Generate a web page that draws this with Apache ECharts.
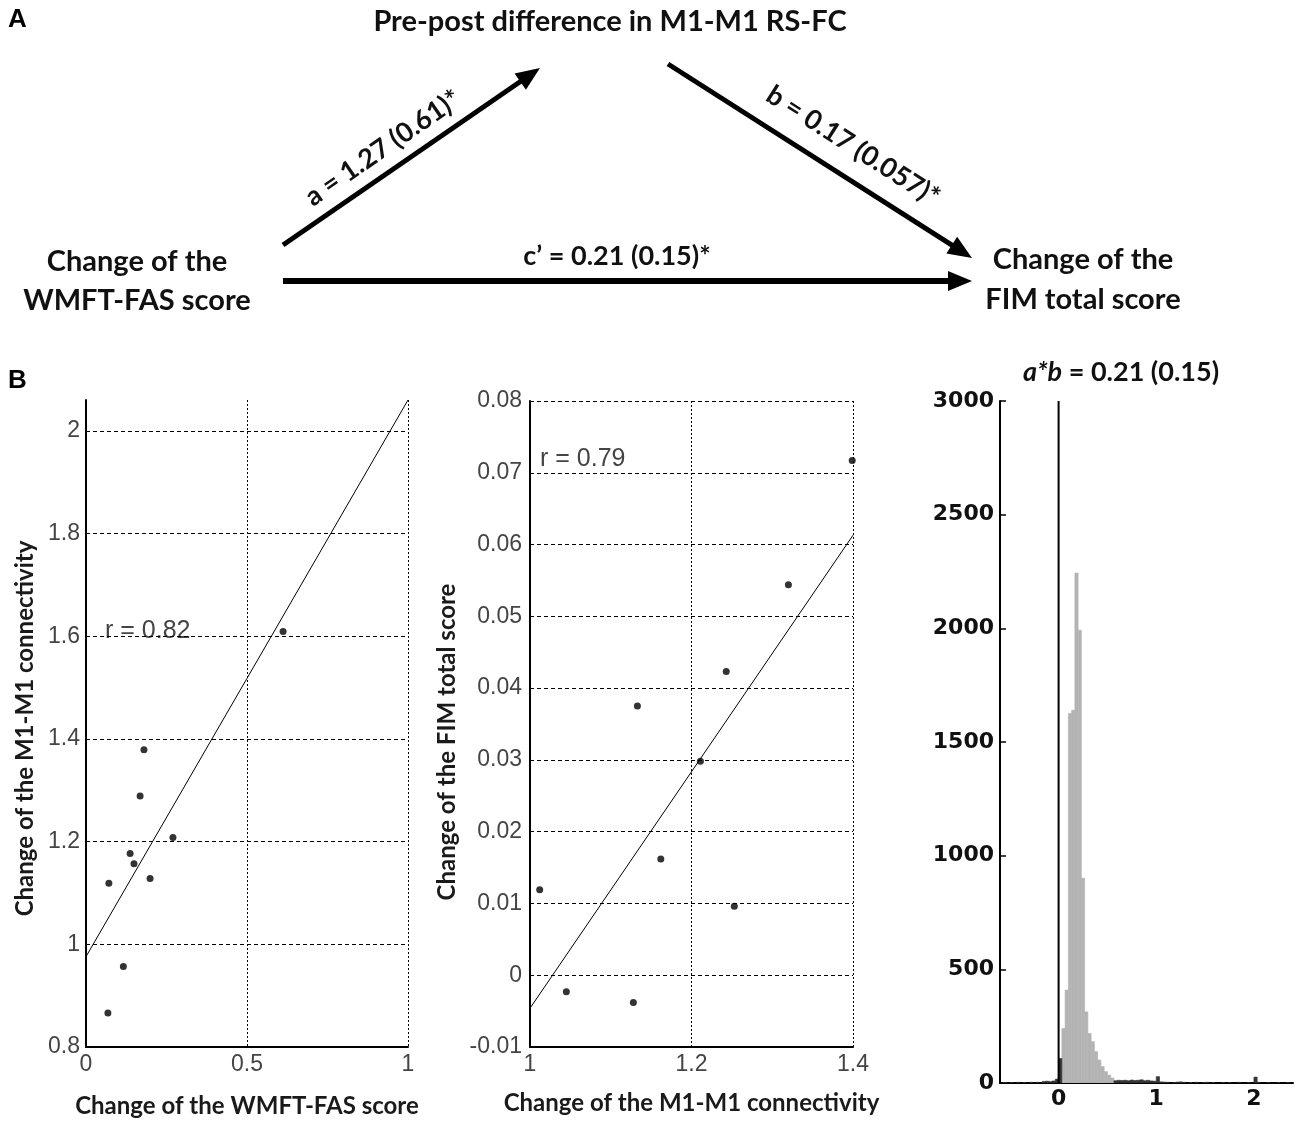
<!DOCTYPE html>
<html>
<head>
<meta charset="utf-8">
<script src="https://cdn.jsdelivr.net/npm/echarts@6/dist/echarts.min.js"></script>
<style>
html, body { margin: 0; padding: 0; background: #fff; }
#main { width: 1300px; height: 1126px; }
</style>
</head>
<body>
<div id="main"></div>
<script>
// B left: change of WMFT-FAS vs change of M1-M1 connectivity
var wmftX = [0.068, 0.116, 0.071, 0.137, 0.149, 0.199, 0.168, 0.180, 0.270, 0.612];
var connY = [0.866, 0.957, 1.119, 1.177, 1.157, 1.128, 1.289, 1.379, 1.208, 1.609];
var fitLeft = [[0, 0.976], [1, 2.06]];

// B middle: change of connectivity vs change of FIM total
var connX = [1.012, 1.045, 1.133, 1.128, 1.162, 1.211, 1.243, 1.253, 1.320, 1.399];
var fimY = [0.0119, -0.0023, 0.0375, -0.0038, 0.0162, 0.0298, 0.0423, 0.0096, 0.0544, 0.0717];
var fitMid = [[1, -0.0046], [1.4, 0.0613]];

// B right: bootstrap distribution of a*b (bin 0 starts at 0)
var binWidth = 1 / 30;
var lightFirstBin = 1;
var lightCounts = [240, 409, 1625, 1640, 2243, 1992, 901, 313, 218, 182, 138, 101, 72, 50, 35, 22];
// [bin index, count]
var darkBins = [
    [-17, 2], [-15, 2], [-13, 3], [-11, 2], [-9, 3], [-7, 3], [-5, 7], [-4, 8], [-3, 6], [-2, 9], [-1, 17], [0, 108],
    [17, 10], [18, 12], [19, 11], [20, 12], [21, 10], [22, 13], [23, 11], [24, 12], [25, 14], [26, 10], [27, 12],
    [28, 9], [29, 8], [30, 28], [31, 5], [32, 4], [33, 3], [35, 2], [36, 4], [37, 5], [38, 3], [40, 2], [42, 3],
    [44, 2], [45, 3], [47, 2], [50, 2], [52, 2], [55, 3], [58, 2], [60, 26], [61, 3], [64, 2], [67, 2], [70, 2]
];
var zeroLine = [[0, 0], [0, 3000]];

var tickFont = 'Liberation Sans';
var boldFont = 'Lato';

function zip(xs, ys) {
    return xs.map(function (x, i) { return [x, ys[i]]; });
}

var lightData = lightCounts.map(function (c, i) {
    var b = lightFirstBin + i;
    return [b * binWidth, (b + 1) * binWidth, c];
});
var darkData = darkBins.map(function (d) {
    return [d[0] * binWidth, (d[0] + 1) * binWidth, d[1]];
});

function renderBar(params, api) {
    var p0 = api.coord([api.value(0), api.value(2)]);
    var p1 = api.coord([api.value(1), 0]);
    var c = api.visual('color');
    return {
        type: 'rect',
        shape: { x: p0[0], y: p0[1], width: p1[0] - p0[0], height: p1[1] - p0[1] },
        style: { fill: c, stroke: c, lineWidth: 0.6 }
    };
}

function arrow(x1, y1, x2, y2, w) {
    var dx = x2 - x1, dy = y2 - y1;
    var len = Math.sqrt(dx * dx + dy * dy);
    var ux = dx / len, uy = dy / len;
    var hl = 24, hw = 10;
    var bx = x2 - ux * hl, by = y2 - uy * hl;
    return [
        { type: 'line', shape: { x1: x1, y1: y1, x2: bx + ux * 2, y2: by + uy * 2 },
          style: { stroke: '#000', lineWidth: w } },
        { type: 'polygon', shape: { points: [[x2, y2], [bx - uy * hw, by + ux * hw], [bx + uy * hw, by - ux * hw]] },
          style: { fill: '#000' } }
    ];
}

function txt(s, x, y, size, extra) {
    var el = {
        type: 'text', x: x, y: y,
        style: { text: s, fontFamily: boldFont, fontWeight: 'bold', fontSize: size, fill: '#111',
                 align: 'center', verticalAlign: 'middle' }
    };
    if (extra) {
        for (var k in extra) el[k] = extra[k];
    }
    return el;
}

var graphics = [
    { type: 'text', x: 8, y: 20, style: { text: 'A', fontFamily: 'Liberation Sans', fontWeight: 'bold', fontSize: 26, fill: '#000', verticalAlign: 'middle' } },
    { type: 'text', x: 8, y: 381, style: { text: 'B', fontFamily: 'Liberation Sans', fontWeight: 'bold', fontSize: 26, fill: '#000', verticalAlign: 'middle' } },
    txt('Pre-post difference in M1-M1 RS-FC', 610, 22, 29),
    txt('Change of the', 137, 262, 29),
    txt('WMFT-FAS score', 137, 301, 29),
    txt('Change of the', 1083, 260, 29),
    txt('FIM total score', 1083, 300, 29),
    txt('a = 1.27 (0.61)*', 383, 148, 27, { rotation: 0.604 }),
    txt('b = 0.17 (0.057)*', 853, 146, 27, { rotation: -0.567 }),
    txt('c\u2019 = 0.21 (0.15)*', 617, 256, 27),
    { type: 'text', x: 1121, y: 372,
      style: { text: '{i|a*b} = 0.21 (0.15)', fontFamily: boldFont, fontWeight: 'bold', fontSize: 27, fill: '#111',
               align: 'center', verticalAlign: 'middle',
               rich: { i: { fontFamily: boldFont, fontWeight: 'bold', fontStyle: 'italic', fontSize: 27, fill: '#111' } } } },
    { type: 'text', x: 105, y: 631, style: { text: 'r = 0.82', fontFamily: tickFont, fontSize: 25, fill: '#444', verticalAlign: 'middle' } },
    { type: 'text', x: 540, y: 459, style: { text: 'r = 0.79', fontFamily: tickFont, fontSize: 25, fill: '#444', verticalAlign: 'middle' } }
].concat(arrow(283, 245, 540, 68, 5))
 .concat(arrow(668, 64, 972, 258, 5))
 .concat(arrow(283, 281, 972, 281, 6));

var axisLineStyle = { show: true, onZero: false, lineStyle: { color: '#000', width: 2 } };
var tickLabel = { fontFamily: tickFont, fontSize: 23, color: '#444' };
var nameStyle = { fontFamily: boldFont, fontWeight: 'bold', fontSize: 24, color: '#1a1a1a' };
var histLabel = { fontFamily: 'DejaVu Sans', fontWeight: 'bold', fontSize: 22, color: '#111' };

function near(v, step) {
    return Math.abs(v / step - Math.round(v / step)) < 1e-6;
}

var myChart = echarts.init(document.getElementById('main'));

var option = {
    backgroundColor: '#fff',
    animation: false,
    graphic: graphics,
    grid: [
        { left: 86, top: 400, width: 322, height: 647 },
        { left: 530, top: 401, width: 323, height: 646 },
        { left: 1000, top: 401, width: 293, height: 682 }
    ],
    xAxis: [
        {
            gridIndex: 0, type: 'value', min: 0, max: 1, interval: 0.5,
            axisLine: axisLineStyle, axisTick: { show: false },
            splitLine: { show: true, lineStyle: { color: '#000', type: [2, 2] } },
            axisLabel: Object.assign({ margin: 6, formatter: function (v) { return String(+v.toFixed(2)); } }, tickLabel),
            name: 'Change of the WMFT-FAS score', nameLocation: 'middle', nameGap: 47, nameTextStyle: nameStyle
        },
        {
            gridIndex: 1, type: 'value', min: 1, max: 1.4, interval: 0.2,
            axisLine: axisLineStyle, axisTick: { show: false },
            splitLine: { show: true, lineStyle: { color: '#000', type: [2, 2] } },
            axisLabel: Object.assign({ margin: 6, formatter: function (v) { return String(+v.toFixed(2)); } }, tickLabel),
            name: 'Change of the M1-M1 connectivity', nameLocation: 'middle', nameGap: 44, nameTextStyle: nameStyle
        },
        {
            gridIndex: 2, type: 'value', min: -0.6, max: 2.4, interval: 0.2,
            axisLine: axisLineStyle, axisTick: { show: false }, splitLine: { show: false },
            axisLabel: Object.assign({
                margin: 5, showMinLabel: false, showMaxLabel: false,
                formatter: function (v) { return near(v, 1) ? String(Math.round(v)) : ''; }
            }, histLabel)
        }
    ],
    yAxis: [
        {
            gridIndex: 0, type: 'value', min: 0.8, max: 2.06, interval: 0.2,
            axisLine: axisLineStyle, axisTick: { show: false },
            splitLine: { show: true, showMaxLine: false, lineStyle: { color: '#000', type: [4, 3] } },
            axisLabel: Object.assign({
                margin: 6, showMaxLabel: false,
                formatter: function (v) { return near(v, 0.2) ? String(+v.toFixed(2)) : ''; }
            }, tickLabel),
            name: 'Change of the M1-M1 connectivity', nameLocation: 'middle', nameGap: 49,
            nameTextStyle: Object.assign({ padding: [0, 10, 0, 0] }, nameStyle)
        },
        {
            gridIndex: 1, type: 'value', min: -0.01, max: 0.08, interval: 0.01,
            axisLine: axisLineStyle, axisTick: { show: false },
            splitLine: { show: true, lineStyle: { color: '#000', type: [4, 3] } },
            axisLabel: Object.assign({
                margin: 8,
                formatter: function (v) { return Math.abs(v) < 1e-9 ? '0' : v.toFixed(2); }
            }, tickLabel),
            name: 'Change of the FIM total score', nameLocation: 'middle', nameGap: 71,
            nameTextStyle: Object.assign({ padding: [0, 36, 0, 0] }, nameStyle)
        },
        {
            gridIndex: 2, type: 'value', min: 0, max: 3000, interval: 500,
            axisLine: axisLineStyle,
            axisTick: { show: true, inside: true, length: 6, lineStyle: { color: '#000', width: 1.5 } },
            splitLine: { show: false },
            axisLabel: Object.assign({ margin: 6, formatter: function (v) { return String(v); } }, histLabel)
        }
    ],
    series: [
        {
            type: 'scatter', xAxisIndex: 0, yAxisIndex: 0, data: zip(wmftX, connY),
            symbol: 'circle', symbolSize: 7, itemStyle: { color: '#000' }
        },
        {
            type: 'line', xAxisIndex: 0, yAxisIndex: 0, data: fitLeft, showSymbol: false,
            lineStyle: { color: '#000', width: 1 }
        },
        {
            type: 'scatter', xAxisIndex: 1, yAxisIndex: 1, data: zip(connX, fimY),
            symbol: 'circle', symbolSize: 7, itemStyle: { color: '#000' }
        },
        {
            type: 'line', xAxisIndex: 1, yAxisIndex: 1, data: fitMid, showSymbol: false,
            lineStyle: { color: '#000', width: 1 }
        },
        {
            type: 'custom', xAxisIndex: 2, yAxisIndex: 2, data: lightData, renderItem: renderBar,
            encode: { x: [0, 1], y: 2 }, itemStyle: { color: '#b3b3b3' }, clip: true
        },
        {
            type: 'custom', xAxisIndex: 2, yAxisIndex: 2, data: darkData, renderItem: renderBar,
            encode: { x: [0, 1], y: 2 }, itemStyle: { color: '#333' }, clip: true
        },
        {
            type: 'line', xAxisIndex: 2, yAxisIndex: 2, data: zeroLine, showSymbol: false,
            lineStyle: { color: '#000', width: 2 }
        }
    ]
};

myChart.setOption(option);
</script>
</body>
</html>
